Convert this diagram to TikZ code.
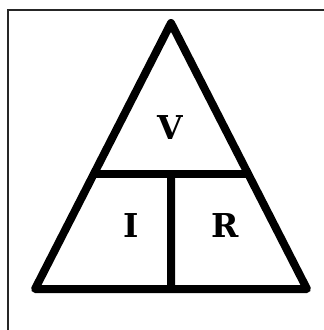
\documentclass[tikz,border=0pt]{standalone}
\usepackage{fontspec}
\setmainfont{DejaVu Serif}
\usetikzlibrary{calc}

\begin{document}
\begin{tikzpicture}[
    x=1bp, % one unit is one pixel of the reference
    y=-1bp, % y runs downwards here
    every node/.style={font=\bfseries\fontsize{33}{33}\selectfont, anchor=center},
    side line/.style={black, line width=8bp, line join=round, line cap=round},
    frame line/.style={black!85, line width=1.3bp}
    ]

\useasboundingbox (0,0) rectangle (324,330);

% --- Frame (top and left edges only) ---
\draw[frame line] (8,330) -- (8,10) -- (324,10);

% --- Corners of the triangle ---
\coordinate (apex) at (171,23);
\coordinate (left) at (35,289);
\coordinate (right) at (307,289);

% --- Points on the sides for the dividers ---
\coordinate (midL) at ($(apex)!0.568!(left)$);
\coordinate (midR) at ($(apex)!0.568!(right)$);
\coordinate (midT) at ($(midL)!0.5!(midR)$);
\coordinate (midB) at ($(left)!0.5!(right)$);

% --- Draw triangle and dividers ---
\draw[side line] (apex) -- (left) -- (right) -- cycle;
\draw[side line, line cap=butt] (midL) -- (midR);
\draw[side line, line cap=butt] (midT) -- (midB);

% --- Labels ---
\node (V) at (170,128) {V};
\node (I) at (131,226) {I};
\node (R) at (225,226) {R};

\end{tikzpicture}
\end{document}
